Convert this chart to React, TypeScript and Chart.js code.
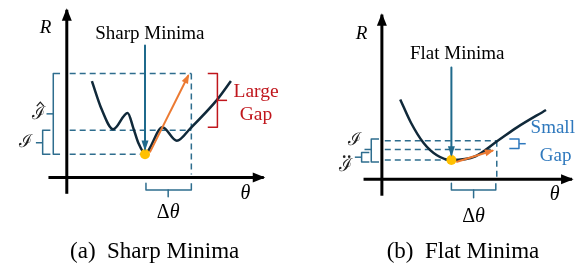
import React, { useEffect, useRef } from "react";
import { Chart, registerables } from "chart.js";

Chart.register(...registerables);

// ---------------- Panel (a) Sharp Minima : (θ, R) in panel units, axes cross at (0, 0)
const aCurveTheta = [26, 36, 48, 63, 69, 74, 81, 99, 114, 128, 156, 170];
const aCurveR = [100, 71, 50, 67, 51, 36, 25, 52, 38, 51, 81, 100];
const aMinimum = [81, 24];
const aOrangeTheta = [86, 126];
const aOrangeR = [26, 106];
const aShiftTheta = 129; // θ* + Δθ
const aLevels = [108, 49, 24]; // Î level, I level, minimum
const aGapR = [108, 80, 52]; // red bracket: top, tick, bottom
const aTitle = "Sharp Minima";
const aCaption = "(a)\u2002Sharp Minima";
const aGapWords = ["Large", "Gap"];

// ---------------- Panel (b) Flat Minima
const bCurveTheta = [19, 30, 43, 57, 72, 97, 120, 140, 170];
const bCurveR = [83, 59, 38, 25, 20, 24, 40, 54, 72];
const bMinimum = [72, 20];
const bOrangeTheta = [77, 115];
const bOrangeR = [18, 30];
const bShiftTheta = 119;
const bLevels = [40, 31, 20];
const bGapR = [42, 37, 32];
const bTitle = "Flat Minima";
const bCaption = "(b)\u2002Flat Minima";
const bGapWords = ["Small", "Gap"];

const SCRIPT_I = "\u2110";

type Line = { theta: number[]; r: number[] };
type Part = { t: string; italic?: boolean };
type Label = {
  parts: Part[];
  theta: number;
  r: number;
  size: number;
  color: string;
  accent?: "hat" | "ddot";
  family?: string;
};

const C_AXIS = "#000000";
const C_CURVE = "#10293a";
const C_DASH = "#2e6d8e";
const C_POINTER = "#1f6a8c";
const C_ORANGE = "#ec7a32";
const C_DOT = "#ffc000";
const C_RED = "#c0161c";
const C_SMALL = "#2e78bd";
const SERIF = "'Liberation Serif', 'Times New Roman', serif";
const SCRIPT_FONT = "'DejaVu Serif', serif";

const L = (theta: number[], r: number[]): Line => ({ theta, r });

function lineDs(l: Line, color: string, width: number, extra: any = {}) {
  return {
    data: l.theta.map((x, i) => ({ x, y: l.r[i] })),
    showLine: true,
    borderColor: color,
    backgroundColor: color,
    borderWidth: width,
    pointRadius: 0,
    fill: false,
    borderJoinStyle: "round",
    clip: false,
    ...extra,
  };
}

const diagramPlugin = {
  id: "diagram",
  afterDatasetsDraw(chart: any) {
    const ctx = chart.ctx;
    chart.data.datasets.forEach((ds: any, i: number) => {
      if (!ds.arrowHead) return;
      const pts = chart.getDatasetMeta(i).data;
      const p1 = pts[pts.length - 1];
      const p0 = pts[pts.length - 2];
      const ang = Math.atan2(p1.y - p0.y, p1.x - p0.x);
      const [len, wid] = ds.arrowHead;
      const bx = p1.x - Math.cos(ang) * len;
      const by = p1.y - Math.sin(ang) * len;
      const nx = -Math.sin(ang) * wid / 2;
      const ny = Math.cos(ang) * wid / 2;
      ctx.save();
      ctx.fillStyle = ds.borderColor;
      ctx.beginPath();
      ctx.moveTo(p1.x + Math.cos(ang) * 1.5, p1.y + Math.sin(ang) * 1.5);
      ctx.lineTo(bx + nx, by + ny);
      ctx.lineTo(bx - nx, by - ny);
      ctx.closePath();
      ctx.fill();
      ctx.restore();
    });
  },
  afterDraw(chart: any, _args: any, opts: any) {
    const ctx = chart.ctx;
    const xs = chart.scales.x;
    const ys = chart.scales.y;
    (opts.labels || []).forEach((lb: Label) => {
      const px = xs.getPixelForValue(lb.theta);
      const py = ys.getPixelForValue(lb.r);
      const fam = lb.family || SERIF;
      ctx.save();
      ctx.fillStyle = lb.color;
      ctx.strokeStyle = lb.color;
      ctx.textBaseline = "middle";
      ctx.textAlign = "left";
      const widths = lb.parts.map((p) => {
        ctx.font = `${p.italic ? "italic " : ""}${lb.size}px ${fam}`;
        return ctx.measureText(p.t).width;
      });
      const total = widths.reduce((a, b) => a + b, 0);
      let x = px - total / 2;
      lb.parts.forEach((p, k) => {
        ctx.font = `${p.italic ? "italic " : ""}${lb.size}px ${fam}`;
        ctx.fillText(p.t, x, py);
        x += widths[k];
      });
      const ay = py - lb.size * 0.62;
      if (lb.accent === "hat") {
        ctx.lineWidth = 1.3;
        ctx.beginPath();
        ctx.moveTo(px - 2, ay + 2.5);
        ctx.lineTo(px + 1.5, ay - 1.5);
        ctx.lineTo(px + 5, ay + 2.5);
        ctx.stroke();
      } else if (lb.accent === "ddot") {
        [-1, 4].forEach((dx) => {
          ctx.beginPath();
          ctx.arc(px + dx, ay + 1, 1.3, 0, Math.PI * 2);
          ctx.fill();
        });
      }
      ctx.restore();
    });
  },
};

function buildA() {
  const [lHat, lI, lLow] = aLevels;
  const order = [
    lineDs(L([aShiftTheta, aShiftTheta], [lHat, 3]), C_DASH, 1.5, { borderDash: [6, 4] }),
    lineDs(L([3, aShiftTheta], [lHat, lHat]), C_DASH, 1.5, { borderDash: [6, 4] }),
    lineDs(L([3, aShiftTheta], [lI, lI]), C_DASH, 1.5, { borderDash: [6, 4] }),
    lineDs(L([3, aMinimum[0]], [lLow, lLow]), C_DASH, 1.5, { borderDash: [6, 4] }),
    lineDs(L([-19, 204], [0, 0]), C_AXIS, 3, { arrowHead: [11, 10] }),
    lineDs(L([0, 0], [-17, 174]), C_AXIS, 3, { arrowHead: [11, 10] }),
    lineDs(L(aCurveTheta, aCurveR), C_CURVE, 2.5, { cubicInterpolationMode: "monotone" }),
    lineDs(L([aMinimum[0], aMinimum[0]], [137, 29]), C_POINTER, 2, { arrowHead: [9, 7] }),
    lineDs(L(aOrangeTheta, aOrangeR), C_ORANGE, 2, { arrowHead: [8, 7] }),
    // Î brace
    lineDs(L([-7, -14, -14, -7], [lHat, lHat, lLow, lLow]), C_DASH, 1.5),
    lineDs(L([-14, -21], [66, 66]), C_DASH, 1.5),
    // I brace
    lineDs(L([-17, -25, -25, -17], [lI, lI, lLow, lLow]), C_DASH, 1.5),
    lineDs(L([-25, -32], [36, 36]), C_DASH, 1.5),
    // red gap bracket
    lineDs(L([146, 156, 156, 146], [aGapR[0], aGapR[0], aGapR[2], aGapR[2]]), C_RED, 1.5),
    lineDs(L([156, 166], [aGapR[1], aGapR[1]]), C_RED, 1.5),
    // Δθ brace
    lineDs(L([aMinimum[0] + 1, aMinimum[0] + 1, aShiftTheta, aShiftTheta], [-6, -13, -13, -6]), C_DASH, 1.5),
    lineDs(L([105, 105], [-13, -20]), C_DASH, 1.5),
    {
      data: [{ x: aMinimum[0], y: aMinimum[1] }],
      showLine: false,
      pointRadius: 5,
      pointBackgroundColor: C_DOT,
      pointBorderWidth: 0,
      clip: false,
    },
  ];
  const labels: Label[] = [
    { parts: [{ t: "R", italic: true }], theta: -22, r: 155, size: 19, color: "#000" },
    { parts: [{ t: "θ", italic: true }], theta: 185, r: -17, size: 20, color: "#000" },
    { parts: [{ t: aTitle }], theta: 86, r: 149, size: 19, color: "#000" },
    { parts: [{ t: SCRIPT_I }], theta: -29, r: 65, size: 18, color: "#222", accent: "hat", family: SCRIPT_FONT },
    { parts: [{ t: SCRIPT_I }], theta: -43, r: 36, size: 18, color: "#222", family: SCRIPT_FONT },
    { parts: [{ t: aGapWords[0] }], theta: 196, r: 89, size: 19.5, color: C_RED },
    { parts: [{ t: aGapWords[1] }], theta: 196, r: 65, size: 19.5, color: C_RED },
    { parts: [{ t: "Δ" }, { t: "θ", italic: true }], theta: 105, r: -37, size: 20, color: "#000" },
    { parts: [{ t: aCaption }], theta: 91, r: -77, size: 23, color: "#000" },
  ];
  return { datasets: order.reverse(), labels, xMin: -64, xMax: 226, yMin: -93, yMax: 179 };
}

function buildB() {
  const [lI, lMid, lLow] = bLevels;
  const order = [
    lineDs(L([bShiftTheta, bShiftTheta], [lI, 0]), C_DASH, 1.5, { borderDash: [6, 4] }),
    lineDs(L([3, bShiftTheta], [lI, lI]), C_DASH, 1.5, { borderDash: [6, 4] }),
    lineDs(L([3, bShiftTheta - 2], [lMid, lMid]), C_DASH, 1.5, { borderDash: [6, 4] }),
    lineDs(L([3, bMinimum[0]], [lLow, lLow]), C_DASH, 1.5, { borderDash: [6, 4] }),
    lineDs(L([-19, 197], [0, 0]), C_AXIS, 3, { arrowHead: [11, 10] }),
    lineDs(L([0, 0], [-17, 171]), C_AXIS, 3, { arrowHead: [11, 10] }),
    lineDs(L(bCurveTheta, bCurveR), C_CURVE, 2.5, { cubicInterpolationMode: "monotone" }),
    lineDs(L([bMinimum[0], bMinimum[0]], [116, 25]), C_POINTER, 2, { arrowHead: [9, 7] }),
    lineDs(L(bOrangeTheta, bOrangeR), C_ORANGE, 2.2, { arrowHead: [8, 7] }),
    // I brace
    lineDs(L([-3, -11, -11, -3], [42, 42, 18, 18]), C_DASH, 1.5),
    lineDs(L([-11, -18], [31, 31]), C_DASH, 1.5),
    // Ï brace
    lineDs(L([-13, -21, -21, -13], [28, 28, 18, 18]), C_DASH, 1.5),
    lineDs(L([-21, -28], [23, 23]), C_DASH, 1.5),
    // small gap bracket
    lineDs(L([132, 142, 142, 132], [bGapR[0], bGapR[0], bGapR[2], bGapR[2]]), C_SMALL, 1.5),
    lineDs(L([142, 149], [bGapR[1], bGapR[1]]), C_SMALL, 1.5),
    // Δθ brace
    lineDs(L([bMinimum[0], bMinimum[0], bShiftTheta - 1, bShiftTheta - 1], [-4, -11, -11, -4]), C_DASH, 1.5),
    lineDs(L([95, 95], [-11, -19]), C_DASH, 1.5),
    {
      data: [{ x: bMinimum[0], y: bMinimum[1] }],
      showLine: false,
      pointRadius: 5,
      pointBackgroundColor: C_DOT,
      pointBorderWidth: 0,
      clip: false,
    },
  ];
  const labels: Label[] = [
    { parts: [{ t: "R", italic: true }], theta: -21, r: 151, size: 19, color: "#000" },
    { parts: [{ t: "θ", italic: true }], theta: 179, r: -16, size: 20, color: "#000" },
    { parts: [{ t: bTitle }], theta: 78, r: 130, size: 19, color: "#000" },
    { parts: [{ t: SCRIPT_I }], theta: -28, r: 40, size: 18, color: "#222", family: SCRIPT_FONT },
    { parts: [{ t: SCRIPT_I }], theta: -38, r: 13, size: 18, color: "#222", accent: "ddot", family: SCRIPT_FONT },
    { parts: [{ t: bGapWords[0] }], theta: 177, r: 53, size: 19, color: C_SMALL },
    { parts: [{ t: bGapWords[1] }], theta: 180, r: 24, size: 19, color: C_SMALL },
    { parts: [{ t: "Δ" }, { t: "θ", italic: true }], theta: 95, r: -39, size: 20, color: "#000" },
    { parts: [{ t: bCaption }], theta: 84, r: -75, size: 23, color: "#000" },
  ];
  return { datasets: order.reverse(), labels, xMin: -90, xMax: 199, yMin: -91, yMax: 181 };
}

function Panel({ build, left, width }: { build: () => any; left: number; width: number }) {
  const ref = useRef<HTMLCanvasElement | null>(null);
  useEffect(() => {
    if (!ref.current) return;
    const cfg = build();
    const chart = new Chart(ref.current, {
      type: "scatter",
      data: { datasets: cfg.datasets },
      options: {
        animation: false,
        responsive: false,
        devicePixelRatio: 1,
        layout: { padding: 0 },
        events: [],
        scales: {
          x: { type: "linear", min: cfg.xMin, max: cfg.xMax, display: false },
          y: { type: "linear", min: cfg.yMin, max: cfg.yMax, display: false },
        },
        plugins: {
          legend: { display: false },
          tooltip: { enabled: false },
          diagram: { labels: cfg.labels },
        } as any,
      },
      plugins: [diagramPlugin],
    } as any);
    return () => chart.destroy();
  }, [build]);
  return (
    <canvas
      ref={ref}
      width={width}
      height={272}
      style={{ position: "absolute", left, top: 0, width, height: 272 }}
    />
  );
}

export default function App() {
  return (
    <div style={{ position: "absolute", left: 0, top: 0, width: 579, height: 272, background: "#fff" }}>
      <Panel build={buildA} left={0} width={290} />
      <Panel build={buildB} left={290} width={289} />
    </div>
  );
}
